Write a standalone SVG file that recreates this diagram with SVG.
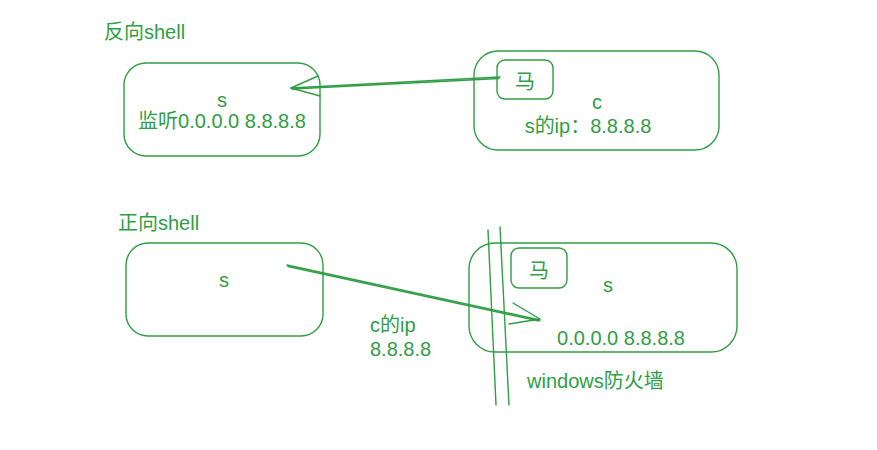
<svg xmlns="http://www.w3.org/2000/svg" width="877" height="450" viewBox="0 0 877 450">
<style>
.b{fill:none;stroke:#2f9e44;stroke-width:1.4;stroke-linecap:round;stroke-linejoin:round}
.t{fill:#2f9e44;font-family:"Liberation Sans","Noto Sans CJK SC",sans-serif;font-size:20px}
.m{text-anchor:middle}
</style>
<rect width="877" height="450" fill="#ffffff"/>
<text class="t" x="104" y="39">反向shell</text>
<text class="t" x="118" y="230">正向shell</text>
<g id="n1">
<rect class="b" x="124" y="63" width="196" height="93" rx="22"/>
<text class="t m" x="222" y="107">s</text>
<text class="t m" x="222" y="128">监听0.0.0.0 8.8.8.8</text>
</g>
<g id="n2">
<rect class="b" x="474" y="51" width="245" height="99" rx="24"/>
<text class="t m" x="597" y="109">c</text>
<text class="t m" x="588" y="133">s的ip：8.8.8.8</text>
</g>
<g id="n2h">
<rect class="b" x="497" y="60" width="56" height="39" rx="8"/>
<text class="t m" x="525" y="89">马</text>
</g>
<g id="n3">
<rect class="b" x="126" y="243" width="197" height="93" rx="22"/>
<text class="t m" x="224" y="287">s</text>
</g>
<g id="n4">
<rect class="b" x="469" y="243" width="268" height="109" rx="26"/>
<text class="t m" x="608" y="292">s</text>
<text class="t m" x="621" y="345">0.0.0.0 8.8.8.8</text>
</g>
<g id="n4h">
<rect class="b" x="511" y="248" width="56" height="40" rx="8"/>
<text class="t m" x="539" y="278">马</text>
</g>
<g id="lbl">
<text class="t" x="370" y="332">c的ip</text>
<text class="t" x="370" y="356">8.8.8.8</text>
<text class="t" x="527" y="388">windows防火墙</text>
</g>
<g id="firewall">
<path class="b" d="M488 230 L496 405"/>
<path class="b" d="M500 227 L509 405"/>
</g>
<g id="connectors">
<path class="b" d="M500 77 L291 88"/>
<path class="b" d="M499 78.5 L292 89"/>
<path class="b" d="M318 76 L291 88 L320 96"/>
<path class="b" d="M287 265 L540 320"/>
<path class="b" d="M288 266.5 L539 321"/>
<path class="b" d="M513 303 L540 319 L509 324"/>
</g>
</svg>
